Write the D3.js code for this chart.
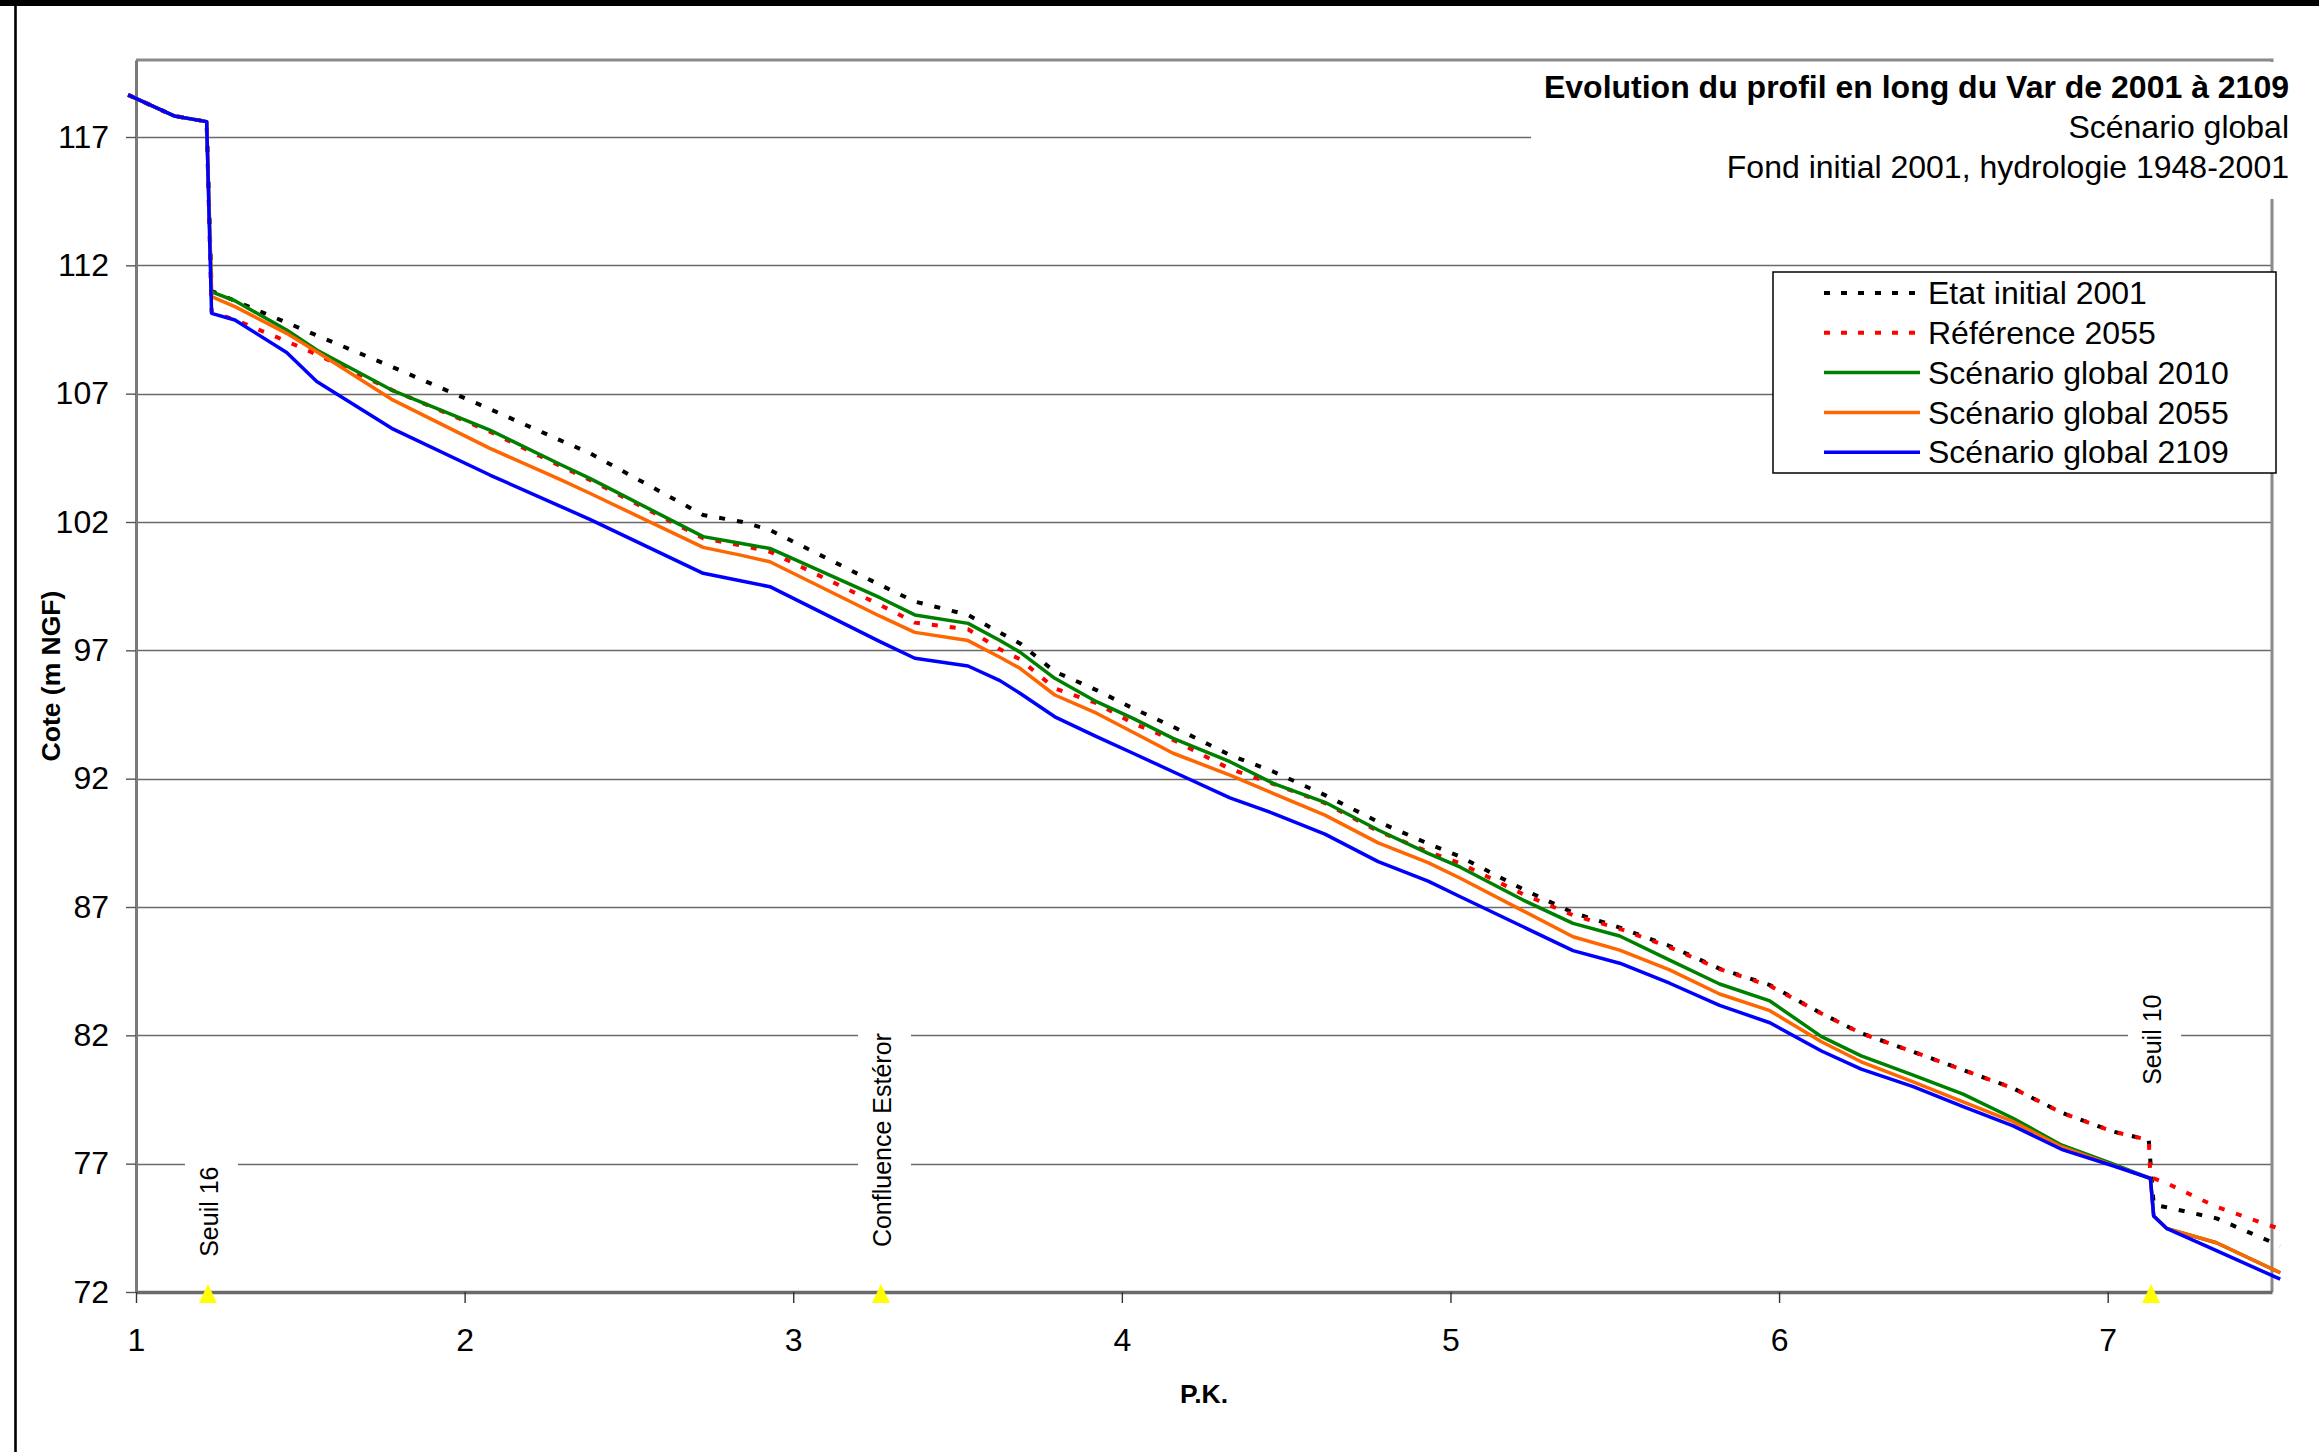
<!DOCTYPE html>
<html><head><meta charset="utf-8">
<script src="https://cdn.jsdelivr.net/npm/d3@7"></script>
<style>
body{margin:0;background:#fff;}
text{font-family:"Liberation Sans",Arial,sans-serif;}
</style>
</head><body>
<svg id="chart" width="2319" height="1452"></svg>
<script>
// ---- data ----
const pk = [0.976, 1.116, 1.215, 1.23, 1.301, 1.4585, 1.55, 1.778, 2.077, 2.29, 2.381, 2.726, 2.843, 2.929, 3.264, 3.37, 3.532, 3.629, 3.69, 3.796, 3.923, 4.034, 4.156, 4.329, 4.46, 4.618, 4.78, 4.932, 5.03, 5.221, 5.373, 5.515, 5.667, 5.819, 5.972, 6.129, 6.25, 6.408, 6.56, 6.712, 6.859, 7.016, 7.125, 7.13, 7.14, 7.179, 7.331, 7.525];
const etatInitial2001 = [118.64, 117.82, 117.6, 111.0, 110.62, 109.77, 109.27, 108.05, 106.4, 105.19, 104.68, 102.27, 102.01, 101.69, 99.55, 98.9, 98.38, 97.69, 97.27, 96.17, 95.45, 94.74, 94.02, 92.92, 92.28, 91.36, 90.32, 89.47, 88.96, 87.69, 86.78, 86.2, 85.48, 84.6, 83.96, 82.85, 82.08, 81.36, 80.65, 79.94, 78.99, 78.25, 77.92, 77.08, 75.39, 75.3, 74.87, 73.8];
const reference2055 = [118.64, 117.82, 117.6, 110.19, 109.88, 109.04, 108.53, 107.15, 105.52, 104.19, 103.64, 101.37, 101.08, 100.84, 98.77, 98.08, 97.82, 97.04, 96.65, 95.52, 94.94, 94.16, 93.51, 92.38, 91.8, 91.05, 89.95, 89.16, 88.7, 87.5, 86.68, 86.15, 85.43, 84.58, 83.93, 82.85, 82.08, 81.36, 80.65, 79.94, 78.99, 78.25, 77.92, 76.5, 76.43, 76.24, 75.32, 74.45];
const global2010 = [118.64, 117.82, 117.6, 110.97, 110.62, 109.48, 108.7, 107.14, 105.58, 104.25, 103.7, 101.43, 101.16, 100.97, 99.05, 98.38, 98.05, 97.38, 96.93, 95.91, 95.0, 94.35, 93.57, 92.66, 91.82, 91.08, 90.0, 89.09, 88.55, 87.27, 86.36, 85.87, 84.93, 84.0, 83.34, 81.95, 81.2, 80.45, 79.71, 78.77, 77.73, 76.99, 76.45, 76.43, 74.96, 74.48, 73.92, 72.75];
const global2055 = [118.64, 117.82, 117.6, 110.78, 110.39, 109.35, 108.63, 106.78, 104.87, 103.66, 103.12, 101.01, 100.7, 100.45, 98.33, 97.7, 97.38, 96.73, 96.3, 95.26, 94.55, 93.81, 92.99, 92.14, 91.43, 90.58, 89.5, 88.73, 88.12, 86.85, 85.84, 85.32, 84.55, 83.61, 82.96, 81.75, 80.97, 80.19, 79.41, 78.64, 77.66, 76.93, 76.45, 76.43, 74.96, 74.48, 73.92, 72.75];
const global2109 = [118.64, 117.82, 117.6, 110.13, 109.87, 108.6, 107.47, 105.65, 103.83, 102.62, 102.1, 100.0, 99.7, 99.48, 97.34, 96.69, 96.39, 95.82, 95.33, 94.41, 93.64, 92.99, 92.27, 91.25, 90.65, 89.84, 88.77, 88.01, 87.4, 86.23, 85.3, 84.81, 84.03, 83.17, 82.49, 81.39, 80.68, 80.0, 79.22, 78.47, 77.56, 76.92, 76.45, 76.43, 74.96, 74.48, 73.61, 72.5];
const seriesNames = ["Etat initial 2001", "Référence 2055", "Scénario global 2010", "Scénario global 2055", "Scénario global 2109"];
const seriesColors = ["#000000", "#ff0000", "#008000", "#ff6600", "#0000ff"];
const seriesDashed = [true, true, false, false, false];
const yTicks = [72, 77, 82, 87, 92, 97, 102, 107, 112, 117];
const xTicks = [1, 2, 3, 4, 5, 6, 7];
const markerNames = ["Seuil 16", "Confluence Estéror", "Seuil 10"];
const markerPK = [1.219, 3.267, 7.132];
const markerLabelCote = [73.37, 73.75, 80.07];
const titleLines = ["Evolution du profil en long du Var de 2001 à 2109", "Scénario global", "Fond initial 2001, hydrologie 1948-2001"];
const xTitle = "P.K.";
const yTitle = "Cote (m NGF)";

// ---- layout ----
const L = 136, R = 2272, T = 60, B = 1292;
const svg = d3.select("#chart");
const x = d3.scaleLinear().domain([1, 7.5]).range([L, R]);
const y = d3.scaleLinear().domain([72, 120]).range([B, T]);

svg.append("rect").attr("width", 2319).attr("height", 1452).attr("fill", "#fff");
// outer frame bits
svg.append("rect").attr("x", 0).attr("y", 0).attr("width", 2319).attr("height", 6).attr("fill", "#000");
svg.append("line").attr("x1", 15.5).attr("x2", 15.5).attr("y1", 0).attr("y2", 1452).attr("stroke", "#000").attr("stroke-width", 2.6);

// gridlines
svg.append("g").selectAll("line").data(yTicks.filter(v => v > 72)).join("line")
  .attr("x1", L).attr("x2", R)
  .attr("y1", d => Math.round(y(d)) + 0.5).attr("y2", d => Math.round(y(d)) + 0.5)
  .attr("stroke", "#6a6a6a").attr("stroke-width", 1.4);

// plot frame (top/right)
svg.append("path").attr("d", `M${L},${T}H${R}V${B}`).attr("fill", "none").attr("stroke", "#8a8a8a").attr("stroke-width", 3);

// annotation labels with white boxes
const ann = svg.append("g");
markerNames.forEach((name, i) => {
  const bx = x(markerPK[i]) + 10, by = y(markerLabelCote[i]);
  const g = ann.append("g").attr("transform", `translate(${bx},${by}) rotate(-90)`);
  const r = g.append("rect").attr("fill", "#fff");
  const t = g.append("text").attr("x", 0).attr("y", 0).attr("font-size", 25).attr("fill", "#000").text(name);
  const len = t.node().getComputedTextLength();
  r.attr("x", -8).attr("y", -33).attr("width", len + 16).attr("height", 53);
});

// axes
const yAxis = svg.append("g").attr("transform", `translate(${L},0)`)
  .call(d3.axisLeft(y).tickValues(yTicks).tickSize(10).tickSizeOuter(0).tickPadding(17).tickFormat(d3.format("d")));
yAxis.selectAll("text").attr("font-size", 32).attr("fill", "#000").attr("font-family", '"Liberation Sans",Arial,sans-serif');
yAxis.select(".domain").attr("stroke", "#7a7a7a").attr("stroke-width", 3);
yAxis.selectAll(".tick line").attr("stroke", "#555").attr("stroke-width", 1.4);

const xAxis = svg.append("g").attr("transform", `translate(0,${B})`)
  .call(d3.axisBottom(x).tickValues(xTicks).tickSize(11).tickSizeOuter(0).tickPadding(25).tickFormat(d3.format("d")));
xAxis.selectAll("text").attr("font-size", 32).attr("fill", "#000").attr("font-family", '"Liberation Sans",Arial,sans-serif');
xAxis.select(".domain").attr("stroke", "#6a6a6a").attr("stroke-width", 3.5);
xAxis.selectAll(".tick line").attr("stroke", "#333").attr("stroke-width", 1.4);

// series
const allSeries = [etatInitial2001, reference2055, global2010, global2055, global2109];
const line = d3.line().x(d => x(d[0])).y(d => y(d[1]));
allSeries.forEach((vals, i) => {
  svg.append("path")
    .datum(pk.map((p, j) => [p, vals[j]]))
    .attr("d", line)
    .attr("fill", "none")
    .attr("stroke", seriesColors[i])
    .attr("stroke-width", seriesDashed[i] ? 4 : 3.5)
    .attr("stroke-dasharray", seriesDashed[i] ? "6,12" : null)
    .attr("stroke-linejoin", "round");
});

// yellow triangle markers
svg.append("g").selectAll("path").data(markerPK).join("path")
  .attr("d", d => { const cx = x(d), cy = y(72) + 1; return `M${cx},${cy - 9}L${cx + 9},${cy + 10}L${cx - 9},${cy + 10}Z`; })
  .attr("fill", "#ffff00");

// title box
svg.append("rect").attr("x", 1531).attr("y", 62).attr("width", 788).attr("height", 137).attr("fill", "#fff");
svg.append("g").selectAll("text").data(titleLines).join("text")
  .attr("x", 2289).attr("y", (d, i) => 98 + i * 40)
  .attr("text-anchor", "end").attr("font-size", 32)
  .attr("font-weight", (d, i) => i === 0 ? "bold" : "normal")
  .attr("fill", "#000").text(d => d);

// legend
const lg = svg.append("g");
lg.append("rect").attr("x", 1773).attr("y", 272).attr("width", 503).attr("height", 201)
  .attr("fill", "#fff").attr("stroke", "#000").attr("stroke-width", 1.5);
seriesNames.forEach((n, i) => {
  const yy = 293 + i * 39.8;
  lg.append("line").attr("x1", 1824).attr("x2", 1920).attr("y1", yy).attr("y2", yy)
    .attr("stroke", seriesColors[i]).attr("stroke-width", seriesDashed[i] ? 4 : 3.5)
    .attr("stroke-dasharray", seriesDashed[i] ? "6,11" : null);
  lg.append("text").attr("x", 1928).attr("y", yy).attr("dy", "0.35em").attr("font-size", 32).attr("fill", "#000").text(n);
});

// axis titles
svg.append("text").attr("x", (L + R) / 2).attr("y", 1403).attr("text-anchor", "middle")
  .attr("font-size", 26.5).attr("font-weight", "bold").text(xTitle);
svg.append("text").attr("transform", `translate(60,${(T + B) / 2}) rotate(-90)`).attr("text-anchor", "middle")
  .attr("font-size", 26.5).attr("font-weight", "bold").text(yTitle);
</script>
</body></html>
